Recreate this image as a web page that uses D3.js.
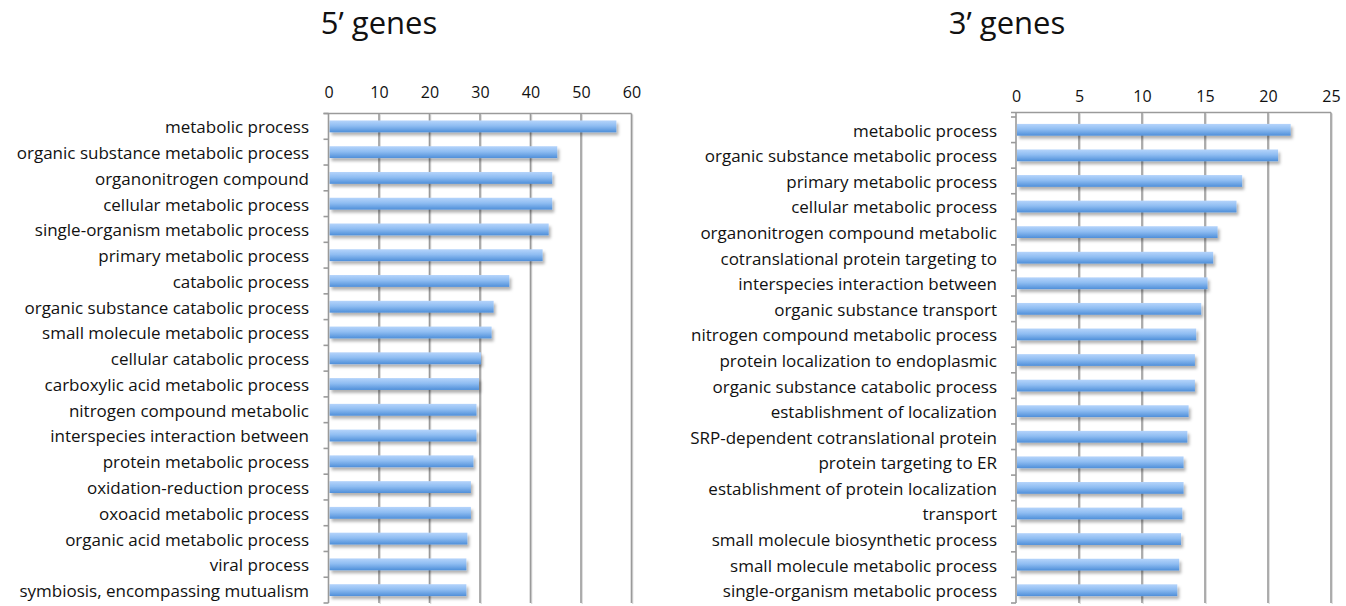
<!DOCTYPE html>
<html>
<head>
<meta charset="utf-8">
<script src="https://cdn.jsdelivr.net/npm/d3@7"></script>
<style>
body { margin: 0; background: #fff; }
#c { width: 1346px; height: 606px; }
text { font-family: "Open Sans", "Noto Sans", sans-serif; fill: #111; }
</style>
</head>
<body>
<div id="c"></div>
<script>
"use strict";

// 5' genes
const leftTitle = "5\u2019 genes"
const leftCategories = [
    "metabolic process",
    "organic substance metabolic process",
    "organonitrogen compound",
    "cellular metabolic process",
    "single-organism metabolic process",
    "primary metabolic process",
    "catabolic process",
    "organic substance catabolic process",
    "small molecule metabolic process",
    "cellular catabolic process",
    "carboxylic acid metabolic process",
    "nitrogen compound metabolic",
    "interspecies interaction between",
    "protein metabolic process",
    "oxidation-reduction process",
    "oxoacid metabolic process",
    "organic acid metabolic process",
    "viral process",
    "symbiosis, encompassing mutualism"
]
const leftValues = [57.0, 45.3, 44.3, 44.3, 43.6, 42.4, 35.8, 32.7, 32.3, 30.2,
    29.8, 29.3, 29.3, 28.7, 28.2, 28.2, 27.5, 27.3, 27.3]
const leftTicks = [0, 10, 20, 30, 40, 50, 60]

// 3' genes
const rightTitle = "3\u2019 genes"
const rightCategories = [
    "metabolic process",
    "organic substance metabolic process",
    "primary metabolic process",
    "cellular metabolic process",
    "organonitrogen compound metabolic",
    "cotranslational protein targeting to",
    "interspecies interaction between",
    "organic substance transport",
    "nitrogen compound metabolic process",
    "protein localization to endoplasmic",
    "organic substance catabolic process",
    "establishment of localization",
    "SRP-dependent cotranslational protein",
    "protein targeting to ER",
    "establishment of protein localization",
    "transport",
    "small molecule biosynthetic process",
    "small molecule metabolic process",
    "single-organism metabolic process"
]
const rightValues = [21.8, 20.8, 17.95, 17.5, 16.0, 15.65, 15.2, 14.7, 14.3, 14.2,
    14.2, 13.7, 13.6, 13.3, 13.3, 13.2, 13.1, 12.95, 12.8]
const rightTicks = [0, 5, 10, 15, 20, 25]

let svg

window.onload = function() {
    svg = d3.select('#c').append('svg')
        .attr('width', 1346)
        .attr('height', 606)
    makeDefs()
    drawPanel({
        title: leftTitle, titleX: 379,
        cats: leftCategories, vals: leftValues, ticks: leftTicks,
        x0: 328.5, x1: 631.5, y0: 113.5, y1: 603, labelX: 309, tickY: 98
    })
    drawPanel({
        title: rightTitle, titleX: 1007,
        cats: rightCategories, vals: rightValues, ticks: rightTicks,
        x0: 1016, x1: 1331, y0: 117, y1: 603, topY: 112.5, labelX: 997, tickY: 102
    })
}

function makeDefs() {
    let defs = svg.append('defs')
    let grad = defs.append('linearGradient')
        .attr('id', 'barGrad')
        .attr('x1', 0).attr('y1', 0).attr('x2', 0).attr('y2', 1)
    grad.append('stop').attr('offset', '0%').attr('stop-color', '#b5d4fb')
    grad.append('stop').attr('offset', '45%').attr('stop-color', '#8fbdf2')
    grad.append('stop').attr('offset', '100%').attr('stop-color', '#4f8fd9')

    let f = defs.append('filter').attr('id', 'shadow')
        .attr('x', '-5%').attr('y', '-30%').attr('width', '115%').attr('height', '190%')
    f.append('feDropShadow')
        .attr('dx', 2).attr('dy', 3).attr('stdDeviation', 1.8)
        .attr('flood-color', '#000').attr('flood-opacity', 0.3)
}

function drawPanel(p) {
    let top = p.topY || p.y0
    let g = svg.append('g')

    let xScale = d3.scaleLinear()
        .domain([p.ticks[0], p.ticks[p.ticks.length - 1]])
        .range([p.x0, p.x1])
    let yScale = d3.scaleBand()
        .domain(p.cats)
        .range([p.y0, p.y1])
        .paddingInner(0.54)
        .paddingOuter(0.27)

    // title
    g.append('text')
        .attr('x', p.titleX).attr('y', 34)
        .attr('text-anchor', 'middle')
        .style('font-size', '31px')
        .text(p.title)

    // grid lines (plus a faint offset line as the shadow)
    let grid = g.append('g')
    grid.selectAll('line.sh')
        .data(p.ticks.slice(1))
        .enter().append('line')
            .attr('class', 'sh')
            .attr('x1', d => xScale(d) + 1.2).attr('x2', d => xScale(d) + 1.2)
            .attr('y1', top + 1).attr('y2', p.y1 + 1)
            .attr('stroke', '#d8d8d8')
            .attr('stroke-width', 1.2)
    grid.selectAll('line.gl')
        .data(p.ticks.slice(1))
        .enter().append('line')
            .attr('class', 'gl')
            .attr('x1', d => xScale(d)).attr('x2', d => xScale(d))
            .attr('y1', top).attr('y2', p.y1)
            .attr('stroke', '#9a9a9a')
            .attr('stroke-width', 1.6)

    // top axis
    let xAxis = g.append('g')
        .attr('transform', 'translate(0,' + top + ')')
        .call(d3.axisTop(xScale).tickValues(p.ticks).tickSize(0).tickPadding(0))
    xAxis.select('.domain').attr('stroke', '#9a9a9a').attr('stroke-width', 1.6)
        .attr('d', 'M' + (p.x0 - 5) + ',0H' + p.x1)
    xAxis.selectAll('text')
        .attr('y', p.tickY - top)
        .style('font-size', '16px')
        .style('font-family', '"Open Sans", sans-serif')
        .attr('fill', '#111')

    // bars
    g.append('g').selectAll('rect')
        .data(p.vals)
        .enter().append('rect')
            .attr('x', xScale(0) + 1)
            .attr('y', (d, i) => yScale(p.cats[i]))
            .attr('width', d => xScale(d) - xScale(0) - 1)
            .attr('height', yScale.bandwidth())
            .attr('fill', 'url(#barGrad)')
            .attr('filter', 'url(#shadow)')

    // left axis with ticks at band edges
    let yAxis = g.append('g')
    yAxis.append('line')
        .attr('x1', p.x0).attr('x2', p.x0)
        .attr('y1', top).attr('y2', p.y1)
        .attr('stroke', '#9a9a9a').attr('stroke-width', 1.6)
    yAxis.selectAll('line.tk')
        .data(d3.range(p.cats.length + 1))
        .enter().append('line')
            .attr('class', 'tk')
            .attr('x1', p.x0 - 5).attr('x2', p.x0)
            .attr('y1', i => p.y0 + i * (p.y1 - p.y0) / p.cats.length)
            .attr('y2', i => p.y0 + i * (p.y1 - p.y0) / p.cats.length)
            .attr('stroke', '#9a9a9a').attr('stroke-width', 1.6)

    // category labels
    g.append('g').selectAll('text')
        .data(p.cats)
        .enter().append('text')
            .attr('x', p.labelX)
            .attr('y', d => yScale(d) + yScale.bandwidth() / 2 + 1)
            .attr('dy', '0.35em')
            .attr('text-anchor', 'end')
            .style('font-size', '17px')
            .text(d => d)
}
</script>
</body>
</html>
